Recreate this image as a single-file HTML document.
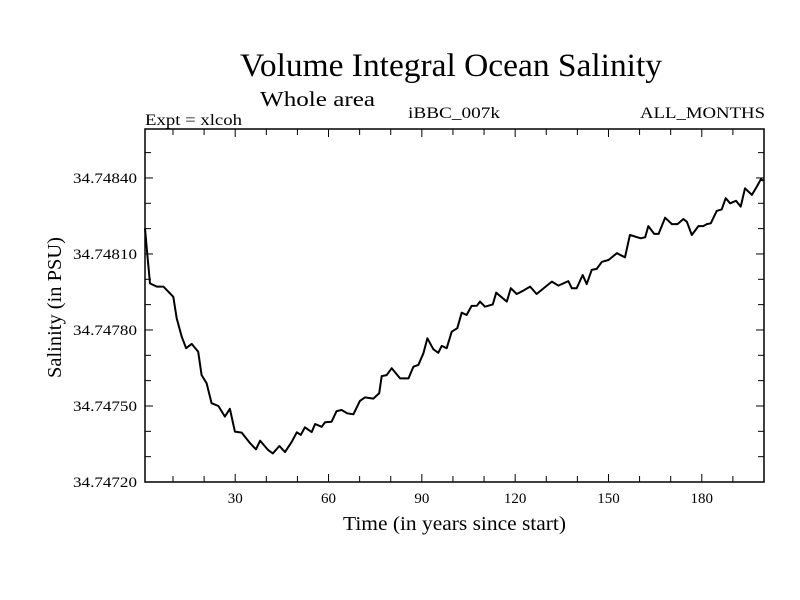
<!DOCTYPE html>
<html><head><meta charset="utf-8">
<style>
body{margin:0;background:#fff;}
svg{display:block;font-family:"Liberation Serif",serif;}
</style></head>
<body>
<svg id="chart" width="800" height="600" viewBox="0 0 800 600">
<rect width="800" height="600" fill="#fff"/>
<text x="240" y="76" font-size="33" textLength="422" lengthAdjust="spacingAndGlyphs">Volume Integral Ocean Salinity</text>
<text x="260" y="106" font-size="21" textLength="115" lengthAdjust="spacingAndGlyphs">Whole area</text>
<text x="145" y="125" font-size="16" textLength="97" lengthAdjust="spacingAndGlyphs">Expt = xlcoh</text>
<text x="408" y="118" font-size="16" textLength="92" lengthAdjust="spacingAndGlyphs">iBBC_007k</text>
<text x="640" y="118" font-size="16" textLength="125" lengthAdjust="spacingAndGlyphs">ALL_MONTHS</text>
<text x="343" y="530" font-size="20" textLength="223" lengthAdjust="spacingAndGlyphs">Time (in years since start)</text>
<text transform="translate(61,378) rotate(-90)" font-size="20" textLength="141" lengthAdjust="spacingAndGlyphs">Salinity (in PSU)</text>
<g id="axes"></g>
<path id="line" fill="none" stroke="#000" stroke-width="2" stroke-linejoin="round"/>
<rect x="145" y="129" width="619" height="353" fill="none" stroke="#000" stroke-width="1.5"/>
</svg>
<script>
const years=[1,1.7,2.6,4.8,6.9,10.1,11.2,12.8,14.2,16.0,18.1,19.2,20.8,22.4,24.6,26.7,28.3,29.9,32.1,34.8,36.7,38.0,40.6,42.1,44.2,46.0,48.2,49.8,51.1,52.4,54.6,55.7,57.8,58.9,61.0,62.6,64.2,66.0,68.0,70.1,71.7,74.4,76.3,77.1,78.7,80.3,83.0,85.7,87.3,88.9,90.5,91.8,93.7,95.3,96.4,98.0,99.6,101.4,102.8,104.4,106.0,107.7,108.7,110.3,112.8,113.9,117.3,118.6,120.5,122.6,124.8,126.9,130.2,131.8,133.9,137.1,138.2,139.8,141.7,143.0,144.6,146.2,147.9,150.0,152.7,155.3,156.9,160.4,161.8,162.8,164.7,166.1,168.2,170.4,172.2,174.1,175.2,176.8,178.9,180.5,181.6,182.9,184.8,186.4,187.7,189.1,191.0,192.5,193.9,196.1,197.7,199.0,199.8];
const salinity=[34.748201,34.748103,34.747984,34.747971,34.747971,34.747931,34.747846,34.747774,34.747728,34.747745,34.747714,34.747622,34.747590,34.747511,34.747500,34.747458,34.747489,34.747399,34.747395,34.747353,34.747329,34.747363,34.747326,34.747313,34.747342,34.747318,34.747359,34.747396,34.747386,34.747416,34.747397,34.747429,34.747418,34.747436,34.747438,34.747480,34.747484,34.747471,34.747467,34.747520,34.747534,34.747529,34.747550,34.747618,34.747622,34.747649,34.747609,34.747609,34.747655,34.747662,34.747708,34.747767,34.747724,34.747710,34.747737,34.747728,34.747793,34.747807,34.747868,34.747859,34.747895,34.747896,34.747912,34.747892,34.747901,34.747947,34.747912,34.747965,34.747942,34.747955,34.747971,34.747942,34.747975,34.747991,34.747975,34.747993,34.747965,34.747965,34.748017,34.747981,34.748037,34.748041,34.748069,34.748076,34.748103,34.748087,34.748175,34.748162,34.748166,34.748210,34.748179,34.748179,34.748243,34.748218,34.748218,34.748238,34.748227,34.748175,34.748210,34.748210,34.748218,34.748221,34.748270,34.748276,34.748320,34.748300,34.748310,34.748287,34.748359,34.748333,34.748366,34.748395,34.748389,34.748395];
const xTicks=[30,60,90,120,150,180];
const yTicks=[34.7472,34.7475,34.7478,34.7481,34.7484];
const yTickLabels=["34.74720","34.74750","34.74780","34.74810","34.74840"];
const X0=145,X1=764,Y0=482,Y1=129,xMin=1,xMax=200,yMin=34.7472,yMax=34.7485932;
const sx=v=>X0+(v-xMin)/(xMax-xMin)*(X1-X0);
const sy=v=>Y0-(v-yMin)/(yMax-yMin)*(Y0-Y1);
const NS="http://www.w3.org/2000/svg";
const ax=document.getElementById('axes');
function ln(x1,y1,x2,y2,name){const l=document.createElementNS(NS,'line');l.setAttribute('x1',x1);l.setAttribute('y1',y1);l.setAttribute('x2',x2);l.setAttribute('y2',y2);l.setAttribute('stroke','#000');l.setAttribute('stroke-width','1');


ax.appendChild(l);}
function tx(x,y,s,anchor,name,len){const t=document.createElementNS(NS,'text');t.setAttribute('x',x);t.setAttribute('y',y);t.setAttribute('font-size','15');t.setAttribute('text-anchor',anchor);if(len){t.setAttribute('textLength',len);t.setAttribute('lengthAdjust','spacingAndGlyphs');}t.textContent=s;


ax.appendChild(t);}
for(let v=10;v<=200;v+=10){const x=sx(v);const major=v%30===0;const len=major?8:6;
ln(x,Y0,x,Y0-len,'x-tick');ln(x,Y1,x,Y1+len,'x-tick-top');}
xTicks.forEach(v=>tx(sx(v),503,String(v),'middle','x-tick-label'));
for(let k=0;k<=13;k++){const v=34.7472+k*0.0001;const y=sy(v);if(y<Y1)continue;const major=k%3===0;const len=major?8:6;
ln(X0,y,X0+len,y,'y-tick');ln(X1,y,X1-len,y,'y-tick-right');}
yTicks.forEach((v,i)=>tx(137,sy(v)+5,yTickLabels[i],'end','y-tick-label',64));
let d='';years.forEach((yr,i)=>{d+=(i?'L':'M')+sx(yr).toFixed(1)+' '+sy(salinity[i]).toFixed(1);});
document.getElementById('line').setAttribute('d',d);
</script>
</body></html>
